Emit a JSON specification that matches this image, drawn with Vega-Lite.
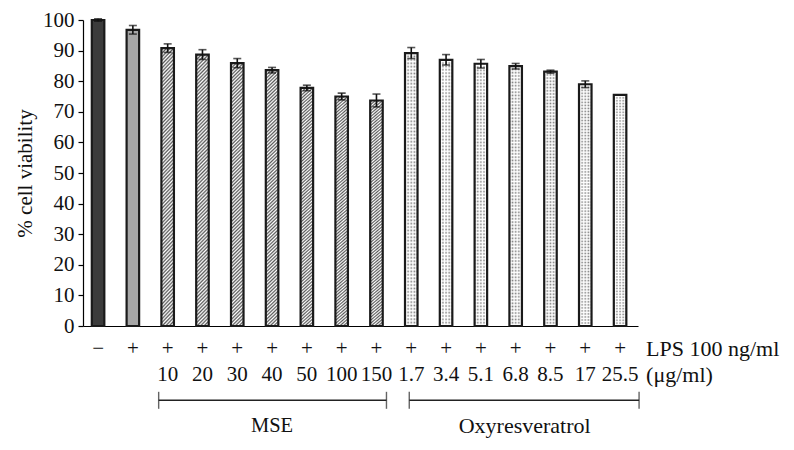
{
  "$schema": "https://vega.github.io/schema/vega-lite/v6.json",
  "background": "white",
  "padding": {"left": 14, "top": 9, "right": 5, "bottom": 0},
  "bounds": "flush",
  "spacing": 0,
  "config": {"view": {"stroke": null}, "font": "Liberation Serif"},
  "datasets": {
    "cells": [
      {"id": "ctrl", "lps": "−", "conc": "", "group": "ctrl", "v": 100, "err": 0.4},
      {"id": "lps", "lps": "+", "conc": "", "group": "lps", "v": 96.8, "err": 1.4},
      {"id": "10", "lps": "+", "conc": "10", "group": "MSE", "v": 90.8, "err": 1.4},
      {"id": "20", "lps": "+", "conc": "20", "group": "MSE", "v": 88.7, "err": 1.6},
      {"id": "30", "lps": "+", "conc": "30", "group": "MSE", "v": 85.9, "err": 1.5},
      {"id": "40", "lps": "+", "conc": "40", "group": "MSE", "v": 83.6, "err": 0.9},
      {"id": "50", "lps": "+", "conc": "50", "group": "MSE", "v": 77.8, "err": 0.9},
      {"id": "100", "lps": "+", "conc": "100", "group": "MSE", "v": 75.0, "err": 1.1},
      {"id": "150", "lps": "+", "conc": "150", "group": "MSE", "v": 73.7, "err": 2.1},
      {"id": "1.7", "lps": "+", "conc": "1.7", "group": "Oxy", "v": 89.2, "err": 1.8},
      {"id": "3.4", "lps": "+", "conc": "3.4", "group": "Oxy", "v": 87.0, "err": 1.7},
      {"id": "5.1", "lps": "+", "conc": "5.1", "group": "Oxy", "v": 85.7, "err": 1.4},
      {"id": "6.8", "lps": "+", "conc": "6.8", "group": "Oxy", "v": 84.9, "err": 0.9},
      {"id": "8.5", "lps": "+", "conc": "8.5", "group": "Oxy", "v": 83.1, "err": 0.5},
      {"id": "17", "lps": "+", "conc": "17", "group": "Oxy", "v": 79.0, "err": 1.1},
      {"id": "25.5", "lps": "+", "conc": "25.5", "group": "Oxy", "v": 75.5, "err": 0}
    ],
    "brackets": [
      {"g": "MSE", "s": "10", "e": "150", "mid": "40"},
      {"g": "Oxyresveratrol", "s": "1.7", "e": "25.5", "mid": "6.8"}
    ],
    "notes": [
      {"t": "LPS 100 ng/ml", "row": "pm"},
      {"t": "(μg/ml)", "row": "conc"}
    ]
  },
  "resolve": {"scale": {"x": "shared"}},
  "vconcat": [
    {
      "width": 555,
      "height": 306,
      "data": {"name": "cells"},
      "encoding": {
        "x": {
          "field": "id", "type": "nominal",
          "scale": {"domain": ["ctrl","lps","10","20","30","40","50","100","150","1.7","3.4","5.1","6.8","8.5","17","25.5"], "paddingInner": 0.64, "paddingOuter": 0.294, "align": 0.43},
          "axis": {"labels": false, "ticks": false, "title": null, "domainColor": "#000", "domainWidth": 1.2}
        },
        "y": {
          "field": "v", "type": "quantitative",
          "scale": {"domain": [0, 100], "nice": false},
          "axis": {"title": "% cell viability", "titleFont": "Liberation Serif", "titleFontSize": 21, "titleFontWeight": "normal", "titleColor": "#111", "titlePadding": 7, "labelFont": "Liberation Serif", "labelFontSize": 21, "labelColor": "#111", "labelPadding": 4, "tickSize": 5, "tickColor": "#000", "tickWidth": 1.2, "domainColor": "#000", "domainWidth": 1.2, "grid": false, "values": [0,10,20,30,40,50,60,70,80,90,100]}
        }
      },
      "layer": [
        {
          "transform": [{"filter": "datum.group == 'ctrl' || datum.group == 'lps'"}],
          "mark": {"type": "bar", "stroke": "#1a1a1a", "strokeWidth": 2.2},
          "encoding": {"fill": {"condition": {"test": "datum.group == 'ctrl'", "value": "#3b3b3b"}, "value": "#a6a6a6"}}
        },
        {
          "transform": [{"filter": "datum.group == 'MSE'"}],
          "mark": {"type": "bar", "stroke": "#1a1a1a", "strokeWidth": 2.2,
            "fill": {"gradient": "linear", "x1": 0, "y1": 0, "x2": 0.05, "y2": 1.06, "stops": [
              {"offset":0,"color":"#fff"},{"offset":0.00625,"color":"#5a5a5a"},{"offset":0.0125,"color":"#fff"},{"offset":0.01875,"color":"#5a5a5a"},{"offset":0.025,"color":"#fff"},{"offset":0.03125,"color":"#5a5a5a"},{"offset":0.0375,"color":"#fff"},{"offset":0.04375,"color":"#5a5a5a"},
              {"offset":0.05,"color":"#fff"},{"offset":0.05625,"color":"#5a5a5a"},{"offset":0.0625,"color":"#fff"},{"offset":0.06875,"color":"#5a5a5a"},{"offset":0.075,"color":"#fff"},{"offset":0.08125,"color":"#5a5a5a"},{"offset":0.0875,"color":"#fff"},{"offset":0.09375,"color":"#5a5a5a"},
              {"offset":0.1,"color":"#fff"},{"offset":0.10625,"color":"#5a5a5a"},{"offset":0.1125,"color":"#fff"},{"offset":0.11875,"color":"#5a5a5a"},{"offset":0.125,"color":"#fff"},{"offset":0.13125,"color":"#5a5a5a"},{"offset":0.1375,"color":"#fff"},{"offset":0.14375,"color":"#5a5a5a"},
              {"offset":0.15,"color":"#fff"},{"offset":0.15625,"color":"#5a5a5a"},{"offset":0.1625,"color":"#fff"},{"offset":0.16875,"color":"#5a5a5a"},{"offset":0.175,"color":"#fff"},{"offset":0.18125,"color":"#5a5a5a"},{"offset":0.1875,"color":"#fff"},{"offset":0.19375,"color":"#5a5a5a"},
              {"offset":0.2,"color":"#fff"},{"offset":0.20625,"color":"#5a5a5a"},{"offset":0.2125,"color":"#fff"},{"offset":0.21875,"color":"#5a5a5a"},{"offset":0.225,"color":"#fff"},{"offset":0.23125,"color":"#5a5a5a"},{"offset":0.2375,"color":"#fff"},{"offset":0.24375,"color":"#5a5a5a"},
              {"offset":0.25,"color":"#fff"},{"offset":0.25625,"color":"#5a5a5a"},{"offset":0.2625,"color":"#fff"},{"offset":0.26875,"color":"#5a5a5a"},{"offset":0.275,"color":"#fff"},{"offset":0.28125,"color":"#5a5a5a"},{"offset":0.2875,"color":"#fff"},{"offset":0.29375,"color":"#5a5a5a"},
              {"offset":0.3,"color":"#fff"},{"offset":0.30625,"color":"#5a5a5a"},{"offset":0.3125,"color":"#fff"},{"offset":0.31875,"color":"#5a5a5a"},{"offset":0.325,"color":"#fff"},{"offset":0.33125,"color":"#5a5a5a"},{"offset":0.3375,"color":"#fff"},{"offset":0.34375,"color":"#5a5a5a"},
              {"offset":0.35,"color":"#fff"},{"offset":0.35625,"color":"#5a5a5a"},{"offset":0.3625,"color":"#fff"},{"offset":0.36875,"color":"#5a5a5a"},{"offset":0.375,"color":"#fff"},{"offset":0.38125,"color":"#5a5a5a"},{"offset":0.3875,"color":"#fff"},{"offset":0.39375,"color":"#5a5a5a"},
              {"offset":0.4,"color":"#fff"},{"offset":0.40625,"color":"#5a5a5a"},{"offset":0.4125,"color":"#fff"},{"offset":0.41875,"color":"#5a5a5a"},{"offset":0.425,"color":"#fff"},{"offset":0.43125,"color":"#5a5a5a"},{"offset":0.4375,"color":"#fff"},{"offset":0.44375,"color":"#5a5a5a"},
              {"offset":0.45,"color":"#fff"},{"offset":0.45625,"color":"#5a5a5a"},{"offset":0.4625,"color":"#fff"},{"offset":0.46875,"color":"#5a5a5a"},{"offset":0.475,"color":"#fff"},{"offset":0.48125,"color":"#5a5a5a"},{"offset":0.4875,"color":"#fff"},{"offset":0.49375,"color":"#5a5a5a"},
              {"offset":0.5,"color":"#fff"},{"offset":0.50625,"color":"#5a5a5a"},{"offset":0.5125,"color":"#fff"},{"offset":0.51875,"color":"#5a5a5a"},{"offset":0.525,"color":"#fff"},{"offset":0.53125,"color":"#5a5a5a"},{"offset":0.5375,"color":"#fff"},{"offset":0.54375,"color":"#5a5a5a"},
              {"offset":0.55,"color":"#fff"},{"offset":0.55625,"color":"#5a5a5a"},{"offset":0.5625,"color":"#fff"},{"offset":0.56875,"color":"#5a5a5a"},{"offset":0.575,"color":"#fff"},{"offset":0.58125,"color":"#5a5a5a"},{"offset":0.5875,"color":"#fff"},{"offset":0.59375,"color":"#5a5a5a"},
              {"offset":0.6,"color":"#fff"},{"offset":0.60625,"color":"#5a5a5a"},{"offset":0.6125,"color":"#fff"},{"offset":0.61875,"color":"#5a5a5a"},{"offset":0.625,"color":"#fff"},{"offset":0.63125,"color":"#5a5a5a"},{"offset":0.6375,"color":"#fff"},{"offset":0.64375,"color":"#5a5a5a"},
              {"offset":0.65,"color":"#fff"},{"offset":0.65625,"color":"#5a5a5a"},{"offset":0.6625,"color":"#fff"},{"offset":0.66875,"color":"#5a5a5a"},{"offset":0.675,"color":"#fff"},{"offset":0.68125,"color":"#5a5a5a"},{"offset":0.6875,"color":"#fff"},{"offset":0.69375,"color":"#5a5a5a"},
              {"offset":0.7,"color":"#fff"},{"offset":0.70625,"color":"#5a5a5a"},{"offset":0.7125,"color":"#fff"},{"offset":0.71875,"color":"#5a5a5a"},{"offset":0.725,"color":"#fff"},{"offset":0.73125,"color":"#5a5a5a"},{"offset":0.7375,"color":"#fff"},{"offset":0.74375,"color":"#5a5a5a"},
              {"offset":0.75,"color":"#fff"},{"offset":0.75625,"color":"#5a5a5a"},{"offset":0.7625,"color":"#fff"},{"offset":0.76875,"color":"#5a5a5a"},{"offset":0.775,"color":"#fff"},{"offset":0.78125,"color":"#5a5a5a"},{"offset":0.7875,"color":"#fff"},{"offset":0.79375,"color":"#5a5a5a"},
              {"offset":0.8,"color":"#fff"},{"offset":0.80625,"color":"#5a5a5a"},{"offset":0.8125,"color":"#fff"},{"offset":0.81875,"color":"#5a5a5a"},{"offset":0.825,"color":"#fff"},{"offset":0.83125,"color":"#5a5a5a"},{"offset":0.8375,"color":"#fff"},{"offset":0.84375,"color":"#5a5a5a"},
              {"offset":0.85,"color":"#fff"},{"offset":0.85625,"color":"#5a5a5a"},{"offset":0.8625,"color":"#fff"},{"offset":0.86875,"color":"#5a5a5a"},{"offset":0.875,"color":"#fff"},{"offset":0.88125,"color":"#5a5a5a"},{"offset":0.8875,"color":"#fff"},{"offset":0.89375,"color":"#5a5a5a"},
              {"offset":0.9,"color":"#fff"},{"offset":0.90625,"color":"#5a5a5a"},{"offset":0.9125,"color":"#fff"},{"offset":0.91875,"color":"#5a5a5a"},{"offset":0.925,"color":"#fff"},{"offset":0.93125,"color":"#5a5a5a"},{"offset":0.9375,"color":"#fff"},{"offset":0.94375,"color":"#5a5a5a"},
              {"offset":0.95,"color":"#fff"},{"offset":0.95625,"color":"#5a5a5a"},{"offset":0.9625,"color":"#fff"},{"offset":0.96875,"color":"#5a5a5a"},{"offset":0.975,"color":"#fff"},{"offset":0.98125,"color":"#5a5a5a"},{"offset":0.9875,"color":"#fff"},{"offset":0.99375,"color":"#5a5a5a"},
              {"offset":1,"color":"#fff"}
            ]}
          }
        },
        {
          "transform": [{"filter": "datum.group == 'Oxy'"}],
          "mark": {"type": "bar", "fill": "#7f7f7f", "strokeWidth": 0}
        },
        {
          "transform": [{"filter": "datum.group == 'Oxy'"}],
          "mark": {"type": "bar", "strokeWidth": 0,
            "fill": {"gradient": "linear", "x1": 0, "y1": 0, "x2": 0, "y2": 1, "stops": [
              {"offset":0,"color":"rgba(255,255,255,0)"},{"offset":0.00625,"color":"#fff"},{"offset":0.0125,"color":"rgba(255,255,255,0)"},{"offset":0.01875,"color":"#fff"},{"offset":0.025,"color":"rgba(255,255,255,0)"},{"offset":0.03125,"color":"#fff"},{"offset":0.0375,"color":"rgba(255,255,255,0)"},{"offset":0.04375,"color":"#fff"},
              {"offset":0.05,"color":"rgba(255,255,255,0)"},{"offset":0.05625,"color":"#fff"},{"offset":0.0625,"color":"rgba(255,255,255,0)"},{"offset":0.06875,"color":"#fff"},{"offset":0.075,"color":"rgba(255,255,255,0)"},{"offset":0.08125,"color":"#fff"},{"offset":0.0875,"color":"rgba(255,255,255,0)"},{"offset":0.09375,"color":"#fff"},
              {"offset":0.1,"color":"rgba(255,255,255,0)"},{"offset":0.10625,"color":"#fff"},{"offset":0.1125,"color":"rgba(255,255,255,0)"},{"offset":0.11875,"color":"#fff"},{"offset":0.125,"color":"rgba(255,255,255,0)"},{"offset":0.13125,"color":"#fff"},{"offset":0.1375,"color":"rgba(255,255,255,0)"},{"offset":0.14375,"color":"#fff"},
              {"offset":0.15,"color":"rgba(255,255,255,0)"},{"offset":0.15625,"color":"#fff"},{"offset":0.1625,"color":"rgba(255,255,255,0)"},{"offset":0.16875,"color":"#fff"},{"offset":0.175,"color":"rgba(255,255,255,0)"},{"offset":0.18125,"color":"#fff"},{"offset":0.1875,"color":"rgba(255,255,255,0)"},{"offset":0.19375,"color":"#fff"},
              {"offset":0.2,"color":"rgba(255,255,255,0)"},{"offset":0.20625,"color":"#fff"},{"offset":0.2125,"color":"rgba(255,255,255,0)"},{"offset":0.21875,"color":"#fff"},{"offset":0.225,"color":"rgba(255,255,255,0)"},{"offset":0.23125,"color":"#fff"},{"offset":0.2375,"color":"rgba(255,255,255,0)"},{"offset":0.24375,"color":"#fff"},
              {"offset":0.25,"color":"rgba(255,255,255,0)"},{"offset":0.25625,"color":"#fff"},{"offset":0.2625,"color":"rgba(255,255,255,0)"},{"offset":0.26875,"color":"#fff"},{"offset":0.275,"color":"rgba(255,255,255,0)"},{"offset":0.28125,"color":"#fff"},{"offset":0.2875,"color":"rgba(255,255,255,0)"},{"offset":0.29375,"color":"#fff"},
              {"offset":0.3,"color":"rgba(255,255,255,0)"},{"offset":0.30625,"color":"#fff"},{"offset":0.3125,"color":"rgba(255,255,255,0)"},{"offset":0.31875,"color":"#fff"},{"offset":0.325,"color":"rgba(255,255,255,0)"},{"offset":0.33125,"color":"#fff"},{"offset":0.3375,"color":"rgba(255,255,255,0)"},{"offset":0.34375,"color":"#fff"},
              {"offset":0.35,"color":"rgba(255,255,255,0)"},{"offset":0.35625,"color":"#fff"},{"offset":0.3625,"color":"rgba(255,255,255,0)"},{"offset":0.36875,"color":"#fff"},{"offset":0.375,"color":"rgba(255,255,255,0)"},{"offset":0.38125,"color":"#fff"},{"offset":0.3875,"color":"rgba(255,255,255,0)"},{"offset":0.39375,"color":"#fff"},
              {"offset":0.4,"color":"rgba(255,255,255,0)"},{"offset":0.40625,"color":"#fff"},{"offset":0.4125,"color":"rgba(255,255,255,0)"},{"offset":0.41875,"color":"#fff"},{"offset":0.425,"color":"rgba(255,255,255,0)"},{"offset":0.43125,"color":"#fff"},{"offset":0.4375,"color":"rgba(255,255,255,0)"},{"offset":0.44375,"color":"#fff"},
              {"offset":0.45,"color":"rgba(255,255,255,0)"},{"offset":0.45625,"color":"#fff"},{"offset":0.4625,"color":"rgba(255,255,255,0)"},{"offset":0.46875,"color":"#fff"},{"offset":0.475,"color":"rgba(255,255,255,0)"},{"offset":0.48125,"color":"#fff"},{"offset":0.4875,"color":"rgba(255,255,255,0)"},{"offset":0.49375,"color":"#fff"},
              {"offset":0.5,"color":"rgba(255,255,255,0)"},{"offset":0.50625,"color":"#fff"},{"offset":0.5125,"color":"rgba(255,255,255,0)"},{"offset":0.51875,"color":"#fff"},{"offset":0.525,"color":"rgba(255,255,255,0)"},{"offset":0.53125,"color":"#fff"},{"offset":0.5375,"color":"rgba(255,255,255,0)"},{"offset":0.54375,"color":"#fff"},
              {"offset":0.55,"color":"rgba(255,255,255,0)"},{"offset":0.55625,"color":"#fff"},{"offset":0.5625,"color":"rgba(255,255,255,0)"},{"offset":0.56875,"color":"#fff"},{"offset":0.575,"color":"rgba(255,255,255,0)"},{"offset":0.58125,"color":"#fff"},{"offset":0.5875,"color":"rgba(255,255,255,0)"},{"offset":0.59375,"color":"#fff"},
              {"offset":0.6,"color":"rgba(255,255,255,0)"},{"offset":0.60625,"color":"#fff"},{"offset":0.6125,"color":"rgba(255,255,255,0)"},{"offset":0.61875,"color":"#fff"},{"offset":0.625,"color":"rgba(255,255,255,0)"},{"offset":0.63125,"color":"#fff"},{"offset":0.6375,"color":"rgba(255,255,255,0)"},{"offset":0.64375,"color":"#fff"},
              {"offset":0.65,"color":"rgba(255,255,255,0)"},{"offset":0.65625,"color":"#fff"},{"offset":0.6625,"color":"rgba(255,255,255,0)"},{"offset":0.66875,"color":"#fff"},{"offset":0.675,"color":"rgba(255,255,255,0)"},{"offset":0.68125,"color":"#fff"},{"offset":0.6875,"color":"rgba(255,255,255,0)"},{"offset":0.69375,"color":"#fff"},
              {"offset":0.7,"color":"rgba(255,255,255,0)"},{"offset":0.70625,"color":"#fff"},{"offset":0.7125,"color":"rgba(255,255,255,0)"},{"offset":0.71875,"color":"#fff"},{"offset":0.725,"color":"rgba(255,255,255,0)"},{"offset":0.73125,"color":"#fff"},{"offset":0.7375,"color":"rgba(255,255,255,0)"},{"offset":0.74375,"color":"#fff"},
              {"offset":0.75,"color":"rgba(255,255,255,0)"},{"offset":0.75625,"color":"#fff"},{"offset":0.7625,"color":"rgba(255,255,255,0)"},{"offset":0.76875,"color":"#fff"},{"offset":0.775,"color":"rgba(255,255,255,0)"},{"offset":0.78125,"color":"#fff"},{"offset":0.7875,"color":"rgba(255,255,255,0)"},{"offset":0.79375,"color":"#fff"},
              {"offset":0.8,"color":"rgba(255,255,255,0)"},{"offset":0.80625,"color":"#fff"},{"offset":0.8125,"color":"rgba(255,255,255,0)"},{"offset":0.81875,"color":"#fff"},{"offset":0.825,"color":"rgba(255,255,255,0)"},{"offset":0.83125,"color":"#fff"},{"offset":0.8375,"color":"rgba(255,255,255,0)"},{"offset":0.84375,"color":"#fff"},
              {"offset":0.85,"color":"rgba(255,255,255,0)"},{"offset":0.85625,"color":"#fff"},{"offset":0.8625,"color":"rgba(255,255,255,0)"},{"offset":0.86875,"color":"#fff"},{"offset":0.875,"color":"rgba(255,255,255,0)"},{"offset":0.88125,"color":"#fff"},{"offset":0.8875,"color":"rgba(255,255,255,0)"},{"offset":0.89375,"color":"#fff"},
              {"offset":0.9,"color":"rgba(255,255,255,0)"},{"offset":0.90625,"color":"#fff"},{"offset":0.9125,"color":"rgba(255,255,255,0)"},{"offset":0.91875,"color":"#fff"},{"offset":0.925,"color":"rgba(255,255,255,0)"},{"offset":0.93125,"color":"#fff"},{"offset":0.9375,"color":"rgba(255,255,255,0)"},{"offset":0.94375,"color":"#fff"},
              {"offset":0.95,"color":"rgba(255,255,255,0)"},{"offset":0.95625,"color":"#fff"},{"offset":0.9625,"color":"rgba(255,255,255,0)"},{"offset":0.96875,"color":"#fff"},{"offset":0.975,"color":"rgba(255,255,255,0)"},{"offset":0.98125,"color":"#fff"},{"offset":0.9875,"color":"rgba(255,255,255,0)"},{"offset":0.99375,"color":"#fff"},
              {"offset":1,"color":"rgba(255,255,255,0)"}
            ]}
          }
        },
        {
          "transform": [{"filter": "datum.group == 'Oxy'"}],
          "mark": {"type": "bar", "stroke": "#1a1a1a", "strokeWidth": 2.2,
            "fill": {"gradient": "linear", "x1": 0, "y1": 0, "x2": 1, "y2": 0, "stops": [
              {"offset":0,"color":"rgba(255,255,255,0)"},{"offset":0.125,"color":"#fff"},{"offset":0.25,"color":"rgba(255,255,255,0)"},{"offset":0.375,"color":"#fff"},{"offset":0.5,"color":"rgba(255,255,255,0)"},{"offset":0.625,"color":"#fff"},{"offset":0.75,"color":"rgba(255,255,255,0)"},{"offset":0.875,"color":"#fff"},{"offset":1,"color":"rgba(255,255,255,0)"}
            ]}
          }
        },
        {
          "transform": [{"filter": "datum.err > 0"}],
          "mark": {"type": "errorbar", "ticks": {"size": 8, "thickness": 1.6, "color": "#111"}, "rule": {"strokeWidth": 1.6, "color": "#111"}},
          "encoding": {"yError": {"field": "err"}}
        }
      ]
    },
    {
      "width": 555,
      "height": 123,
      "data": {"name": "cells"},
      "encoding": {
        "x": {
          "field": "id", "type": "nominal",
          "scale": {"domain": ["ctrl","lps","10","20","30","40","50","100","150","1.7","3.4","5.1","6.8","8.5","17","25.5"], "paddingInner": 0.64, "paddingOuter": 0.294, "align": 0.43},
          "axis": null
        }
      },
      "layer": [
        {
          "mark": {"type": "text", "fontSize": 21, "font": "Liberation Serif", "color": "#111"},
          "encoding": {
            "y": {"datum": "pm", "type": "nominal", "scale": {"type": "point", "domain": ["pm", "conc", "br", "name"], "padding": 0.9}, "axis": null},
            "text": {"field": "lps"}
          }
        },
        {
          "mark": {"type": "text", "fontSize": 21, "font": "Liberation Serif", "color": "#111"},
          "encoding": {
            "y": {"datum": "conc", "type": "nominal"},
            "text": {"field": "conc"}
          }
        },
        {
          "data": {"name": "notes"},
          "mark": {"type": "text", "fontSize": 22, "font": "Liberation Serif", "color": "#111", "align": "left", "dx": 26},
          "encoding": {
            "x": {"datum": "25.5", "type": "nominal"},
            "y": {"field": "row", "type": "nominal"},
            "text": {"field": "t"}
          }
        },
        {
          "data": {"name": "brackets"},
          "transform": [{"filter": "datum.g == 'MSE'"}],
          "mark": {"type": "rule", "color": "#222", "strokeWidth": 1.4, "xOffset": -9, "x2Offset": 10},
          "encoding": {"x": {"field": "s", "type": "nominal"}, "x2": {"field": "e"}, "y": {"datum": "br", "type": "nominal"}}
        },
        {
          "data": {"name": "brackets"},
          "transform": [{"filter": "datum.g == 'MSE'"}],
          "mark": {"type": "tick", "orient": "vertical", "color": "#222", "thickness": 1.4, "size": 17, "xOffset": -9},
          "encoding": {"x": {"field": "s", "type": "nominal"}, "y": {"datum": "br", "type": "nominal"}}
        },
        {
          "data": {"name": "brackets"},
          "transform": [{"filter": "datum.g == 'MSE'"}],
          "mark": {"type": "tick", "orient": "vertical", "color": "#222", "thickness": 1.4, "size": 17, "xOffset": 10},
          "encoding": {"x": {"field": "e", "type": "nominal"}, "y": {"datum": "br", "type": "nominal"}}
        },
        {
          "data": {"name": "brackets"},
          "transform": [{"filter": "datum.g != 'MSE'"}],
          "mark": {"type": "rule", "color": "#222", "strokeWidth": 1.4, "xOffset": -2, "x2Offset": 19},
          "encoding": {"x": {"field": "s", "type": "nominal"}, "x2": {"field": "e"}, "y": {"datum": "br", "type": "nominal"}}
        },
        {
          "data": {"name": "brackets"},
          "transform": [{"filter": "datum.g != 'MSE'"}],
          "mark": {"type": "tick", "orient": "vertical", "color": "#222", "thickness": 1.4, "size": 17, "xOffset": -2},
          "encoding": {"x": {"field": "s", "type": "nominal"}, "y": {"datum": "br", "type": "nominal"}}
        },
        {
          "data": {"name": "brackets"},
          "transform": [{"filter": "datum.g != 'MSE'"}],
          "mark": {"type": "tick", "orient": "vertical", "color": "#222", "thickness": 1.4, "size": 17, "xOffset": 19},
          "encoding": {"x": {"field": "e", "type": "nominal"}, "y": {"datum": "br", "type": "nominal"}}
        },
        {
          "data": {"name": "brackets"},
          "transform": [{"filter": "datum.g == 'MSE'"}],
          "mark": {"type": "text", "fontSize": 20.5, "font": "Liberation Serif", "color": "#111"},
          "encoding": {"x": {"field": "mid", "type": "nominal"}, "y": {"datum": "name", "type": "nominal"}, "text": {"field": "g"}}
        },
        {
          "data": {"name": "brackets"},
          "transform": [{"filter": "datum.g != 'MSE'"}],
          "mark": {"type": "text", "fontSize": 22, "font": "Liberation Serif", "color": "#111", "dx": 9},
          "encoding": {"x": {"field": "mid", "type": "nominal"}, "y": {"datum": "name", "type": "nominal"}, "text": {"field": "g"}}
        }
      ]
    }
  ]
}
